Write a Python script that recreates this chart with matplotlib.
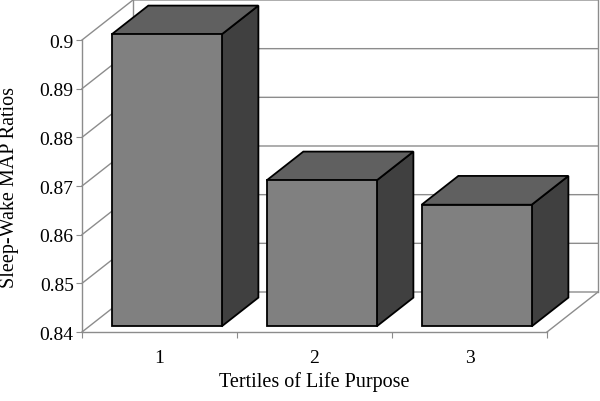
import matplotlib
matplotlib.use("Agg")
import matplotlib.pyplot as plt
from matplotlib.patches import Polygon

categories = ["1", "2", "3"]
values = [0.900, 0.870, 0.865]
yticks = [0.84, 0.85, 0.86, 0.87, 0.88, 0.89, 0.90]
ytick_labels = ["0.84", "0.85", "0.86", "0.87", "0.88", "0.89", "0.9"]
xlabel = "Tertiles of Life Purpose"
ylabel = "Sleep-Wake MAP Ratios"

plt.rcParams['font.family'] = ['Liberation Serif', 'DejaVu Serif']

W, H = 600, 402
fig = plt.figure(figsize=(W / 100, H / 100), dpi=100)
ax = fig.add_axes([82 / W, (H - 333) / H, 465 / W, 292 / H])
ymin, ymax = 0.84, 0.90
n = len(categories)
ax.set_xlim(0, n)
ax.set_ylim(ymin, ymax)

DX, DY = 0.329, 0.00822   # depth offset (category units, value units)
f1, f2 = 0.14, 0.86       # bar front / back depth fractions
hw = 0.355                # half bar width
grid_c = '#8c8c8c'

# back wall + left wall gridlines
for v in yticks:
    ax.plot([0, DX, n + DX], [v, v + DY, v + DY], color=grid_c, lw=1.0,
            clip_on=False, zorder=1)
ax.plot([DX, DX], [ymin + DY, ymax + DY], color=grid_c, lw=1.0, clip_on=False, zorder=1)
ax.plot([n + DX, n + DX], [ymin + DY, ymax + DY], color=grid_c, lw=1.0, clip_on=False, zorder=1)
ax.plot([n, n + DX], [ymin, ymin + DY], color=grid_c, lw=1.0, clip_on=False, zorder=1)

# bars
for i, v in enumerate(values):
    c = i + 0.5
    xl, xr = c - hw, c + hw
    front = [(xl + f1 * DX, ymin + f1 * DY), (xr + f1 * DX, ymin + f1 * DY),
             (xr + f1 * DX, v + f1 * DY), (xl + f1 * DX, v + f1 * DY)]
    top = [(xl + f1 * DX, v + f1 * DY), (xr + f1 * DX, v + f1 * DY),
           (xr + f2 * DX, v + f2 * DY), (xl + f2 * DX, v + f2 * DY)]
    side = [(xr + f1 * DX, ymin + f1 * DY), (xr + f2 * DX, ymin + f2 * DY),
            (xr + f2 * DX, v + f2 * DY), (xr + f1 * DX, v + f1 * DY)]
    for pts, col in [(side, '#404040'), (top, '#606060'), (front, '#808080')]:
        ax.add_patch(Polygon(pts, closed=True, facecolor=col, edgecolor='black',
                             lw=1.3, joinstyle='miter', clip_on=False, zorder=3))

# axes styling
for s in ['top', 'right']:
    ax.spines[s].set_visible(False)
for s in ['left', 'bottom']:
    ax.spines[s].set_color(grid_c)
    ax.spines[s].set_linewidth(1.0)
    ax.spines[s].set_zorder(2)

ax.set_yticks(yticks)
ax.set_yticklabels(ytick_labels)
ax.tick_params(axis='y', direction='out', length=4, color=grid_c, pad=2,
               labelsize=14)
ax.set_xticks(list(range(n + 1)))
ax.set_xticklabels([])
ax.tick_params(axis='x', which='major', direction='out', length=4, color=grid_c)
ax.set_xticks([i + 0.5 for i in range(n)], minor=True)
ax.set_xticklabels(categories, minor=True)
ax.tick_params(axis='x', which='minor', length=0, pad=12, labelsize=14)
ax.set_facecolor('none')

fig.text(314.5 / W, 1 - 382 / H, xlabel, ha='center', va='center', fontsize=14.5)
fig.text(10 / W, 1 - 187.5 / H, ylabel, ha='center', va='center', rotation=90,
         fontsize=14.5)

fig.savefig("out.png", dpi=100, facecolor='white')
